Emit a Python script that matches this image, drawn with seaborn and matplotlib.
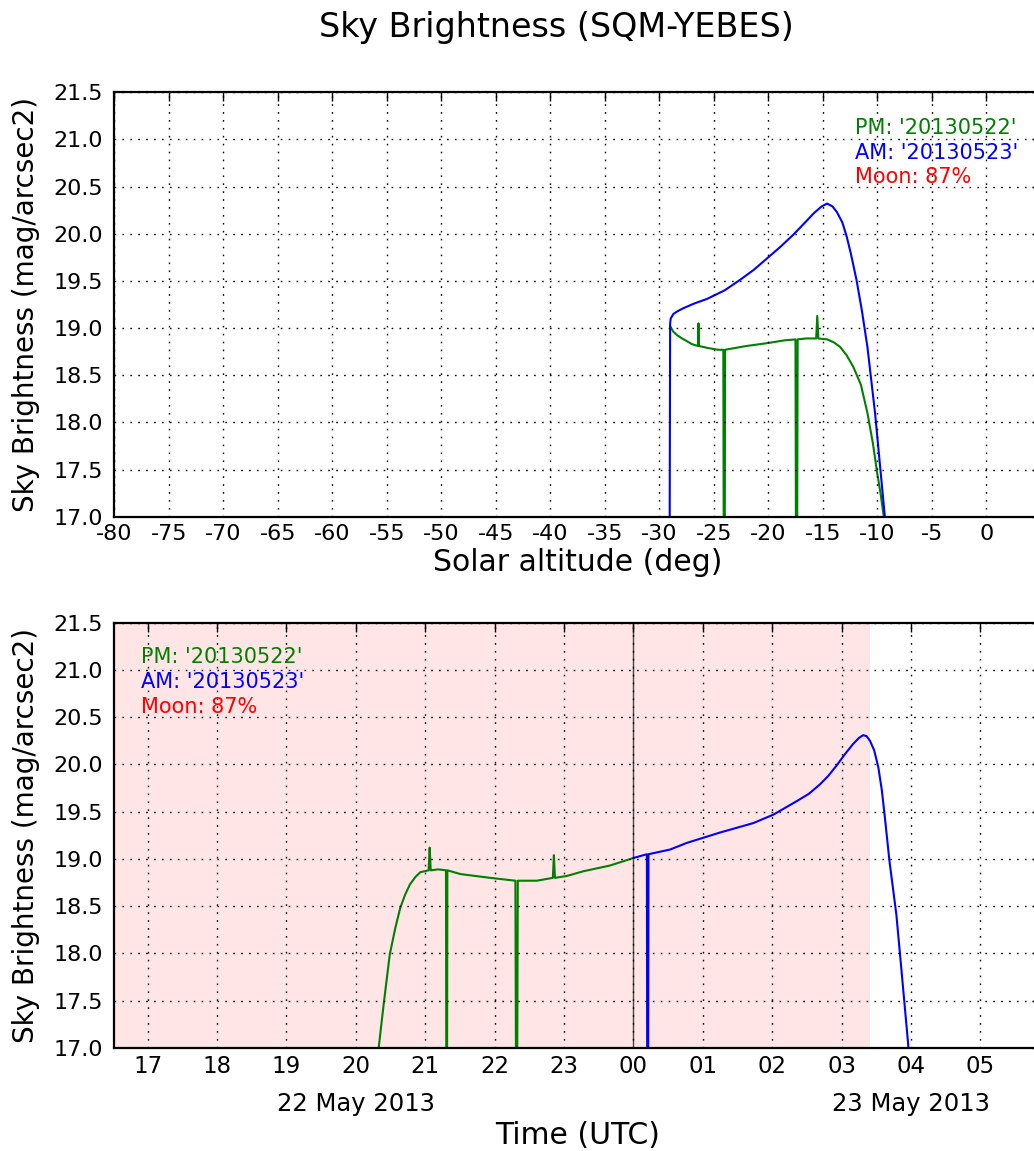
import matplotlib
matplotlib.use("Agg")
import matplotlib.pyplot as plt
import seaborn as sns

# ---------------- data ----------------
# Top panel: sky brightness vs solar altitude
pm_alt = [-29.0, -28.7, -28.3, -27.9, -27.0, -26.45, -26.4, -26.35, -25.6, -24.6, -24.12,
          -24.08, -23.99, -23.96, -22.0, -20.1, -18.5, -17.5, -17.45, -17.35, -17.3, -16.5,
          -15.6, -15.5, -15.4, -14.6, -14.0, -13.4, -12.8, -12.2, -11.5, -10.9, -10.4,
          -10.0, -9.7, -9.4, -9.2]
pm_mag = [19.02, 18.96, 18.92, 18.89, 18.83, 18.81, 19.05, 18.81, 18.79, 18.77, 18.77,
          16.5, 16.5, 18.77, 18.81, 18.84, 18.87, 18.88, 16.5, 16.5, 18.88, 18.89,
          18.89, 19.13, 18.89, 18.88, 18.85, 18.80, 18.71, 18.59, 18.40, 18.10, 17.78,
          17.46, 17.25, 17.0, 16.8]

am_alt = [-29.05, -29.0, -28.95, -28.7, -28.3, -27.8, -26.8, -25.6, -24.0, -22.6, -21.3,
          -20.1, -18.9, -17.7, -16.7, -15.8, -15.1, -14.6, -14.1, -13.7, -13.2, -12.8,
          -12.4, -11.9, -11.4, -10.9, -10.55, -10.2, -9.75, -9.3, -9.1]
am_mag = [16.5, 19.05, 19.10, 19.15, 19.18, 19.21, 19.26, 19.31, 19.40, 19.51, 19.62,
          19.74, 19.86, 19.99, 20.11, 20.22, 20.29, 20.32, 20.29, 20.23, 20.12, 19.97,
          19.78, 19.51, 19.18, 18.80, 18.45, 18.10, 17.55, 17.0, 16.7]

# Bottom panel: sky brightness vs time (hours from 23 May 2013 00:00 UTC)
pm_t = [-3.70, -3.67, -3.60, -3.51, -3.43, -3.36, -3.29, -3.22, -3.14, -3.07, -2.95,
        -2.935, -2.92, -2.81, -2.70, -2.695, -2.685, -2.68, -2.49, -2.06, -1.70, -1.69,
        -1.675, -1.665, -1.39, -1.16, -1.145, -1.13, -0.96, -0.72, -0.34, 0.0]
pm_tmag = [16.8, 17.0, 17.45, 17.99, 18.27, 18.48, 18.62, 18.73, 18.81, 18.86, 18.88,
           19.12, 18.88, 18.89, 18.88, 16.5, 16.5, 18.88, 18.84, 18.80, 18.77, 16.5,
           16.5, 18.77, 18.77, 18.80, 19.04, 18.80, 18.82, 18.87, 18.93, 19.01]

am_t = [0.0, 0.195, 0.20, 0.213, 0.218, 0.53, 0.77, 1.25, 1.73, 2.02, 2.35, 2.53, 2.69,
        2.81, 2.93, 3.05, 3.17, 3.25, 3.31, 3.36, 3.41, 3.47, 3.53, 3.58, 3.62, 3.69,
        3.79, 3.86, 3.96, 3.98]
am_tmag = [19.01, 19.05, 16.5, 16.5, 19.05, 19.10, 19.17, 19.28, 19.38, 19.47, 19.61,
           19.69, 19.79, 19.88, 19.99, 20.11, 20.22, 20.28, 20.31, 20.30, 20.25, 20.15,
           19.97, 19.73, 19.47, 18.98, 18.41, 17.85, 17.04, 16.8]

night_span = [-8.0, 3.41]
alt_ticks = list(range(-80, 5, 5))
hour_ticks = list(range(-7, 6))
hour_labels = ["17", "18", "19", "20", "21", "22", "23", "00", "01", "02", "03", "04", "05"]
date_ticks = [-4.0, 4.0]
date_labels = ["22 May 2013", "23 May 2013"]
mag_ticks = [17.0, 17.5, 18.0, 18.5, 19.0, 19.5, 20.0, 20.5, 21.0, 21.5]
legend_texts = ["PM: '20130522'", "AM: '20130523'", "Moon: 87%"]
legend_colors = ["green", "blue", "red"]

# ---------------- style ----------------
sns.set_theme(style="white")
plt.rcParams["font.family"] = ["DejaVu Sans"]
plt.rcParams["axes.unicode_minus"] = False
plt.rcParams["text.color"] = "black"
plt.rcParams["axes.labelcolor"] = "black"

GREEN = (0, 0.5, 0)
BLUE = (0, 0, 1)
RED = (1, 0, 0)
TICK_FS = 16
XLABEL_FS = 21.5
YLABEL_FS = 20
LEG_FS = 15
DATE_FS = 17.5

fig = plt.figure(figsize=(10.34, 11.51), dpi=100)
ax1 = fig.add_axes([0.1105, 0.5511, 0.896, 0.3687])
ax2 = fig.add_axes([0.1105, 0.0895, 0.896, 0.3695])


def style_axes(ax):
    ax.set_facecolor("white")
    for s in ax.spines.values():
        s.set_visible(True)
        s.set_color("black")
        s.set_linewidth(1.6)
    ax.grid(True, color="black", linestyle=(0, (1.2, 4.5)), linewidth=1.0)
    ax.set_axisbelow(False)
    ax.tick_params(axis="both", which="major", direction="in", length=6.5, width=1.0,
                   top=True, right=True, labelsize=TICK_FS, colors="black")
    ax.tick_params(axis="y", which="major", pad=8)
    ax.tick_params(axis="x", which="major", pad=5)
    ax.set_ylim(17.0, 21.5)
    ax.set_yticks(mag_ticks)
    ax.set_yticklabels([f"{v:.1f}" for v in mag_ticks])
    ax.set_ylabel("Sky Brightness (mag/arcsec2)", fontsize=YLABEL_FS, labelpad=10)


# ---- top panel ----
sns.lineplot(x=pm_alt, y=pm_mag, sort=False, estimator=None, color=GREEN,
             linewidth=1.5, ax=ax1)
sns.lineplot(x=am_alt, y=am_mag, sort=False, estimator=None, color=BLUE,
             linewidth=1.5, ax=ax1)
style_axes(ax1)
ax1.set_xlim(-80, 5)
ax1.set_xticks(alt_ticks)
ax1.set_xticklabels([str(v) for v in alt_ticks])
ax1.set_xlabel("Solar altitude (deg)", fontsize=XLABEL_FS, labelpad=3)
for i, (t, c) in enumerate(zip(legend_texts, legend_colors)):
    ax1.text(0.80, 0.916 - i * 0.058, t, color=c, fontsize=LEG_FS,
             transform=ax1.transAxes, ha="left", va="center")

# ---- bottom panel ----
ax2.axvspan(night_span[0], night_span[1], color=RED, alpha=0.1, lw=0, zorder=0)
ax2.axvline(0.0, color="black", linewidth=1.0, alpha=0.7, zorder=1)
sns.lineplot(x=pm_t, y=pm_tmag, sort=False, estimator=None, color=GREEN,
             linewidth=1.5, ax=ax2)
sns.lineplot(x=am_t, y=am_tmag, sort=False, estimator=None, color=BLUE,
             linewidth=1.5, ax=ax2)
style_axes(ax2)
ax2.set_xlim(-7.48, 5.87)
ax2.xaxis.remove_overlapping_locs = False
ax2.set_xticks(hour_ticks)
ax2.set_xticklabels(hour_labels)
ax2.tick_params(axis="x", which="major", labelsize=16.5)
ax2.set_xticks(date_ticks, minor=True)
ax2.set_xticklabels(date_labels, minor=True)
ax2.tick_params(axis="x", which="minor", length=0, pad=32, labelsize=DATE_FS,
                top=False, bottom=True, colors="black")
ax2.set_xlabel("Time (UTC)", fontsize=XLABEL_FS, labelpad=3)
for i, (t, c) in enumerate(zip(legend_texts, legend_colors)):
    ax2.text(0.0285, 0.920 - i * 0.059, t, color=c, fontsize=LEG_FS,
             transform=ax2.transAxes, ha="left", va="center")

fig.text(0.5377, 1 - 37 / 1151, "Sky Brightness (SQM-YEBES)", fontsize=24,
         ha="center", va="baseline", color="black")

fig.savefig("out.png", dpi=100)
